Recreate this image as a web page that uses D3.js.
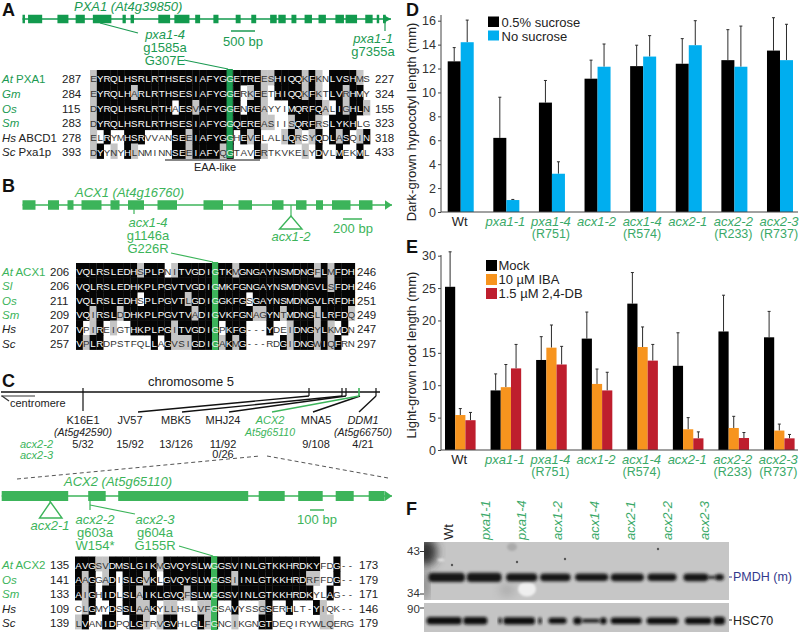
<!DOCTYPE html>
<html><head><meta charset="utf-8">
<style>html,body{margin:0;padding:0;background:#fff}svg{display:block}text{font-family:"Liberation Sans",Arial,sans-serif}</style>
<script src="https://cdnjs.cloudflare.com/ajax/libs/d3/7.8.5/d3.min.js"></script></head>
<body><svg id="c" width="799" height="633"></svg>
<script>
// ---------- data ----------
const groups=["Wt","pxa1-1","pxa1-4","acx1-2","acx1-4","acx2-1","acx2-2","acx2-3"];
const sublabels=["","","(R751)","","(R574)","","(R233)","(R737)"];
const sucrose=[12.6,6.2,9.15,11.15,12.2,12.4,12.7,13.5];
const noSucrose=[14.2,1.0,3.2,12.15,13,13.95,12.15,12.7];
const sucroseTop=[13.75,9.6,11,12.7,13.95,14.5,15.25,16.25];
const noSucroseTop=[16.05,1.05,4.2,14.05,14.75,16,15.55,15.7];
const mock=[25.2,9.2,13.9,17.2,22.6,13,18.3,17.4];
const iba=[5.4,9.7,15.8,10.2,15.9,3.2,3.4,3.0];
const db=[4.6,12.6,13.2,9.2,13.8,1.8,1.85,1.8];
const mockTop=[30.6,11.75,17.5,21.3,27.4,18.1,23.9,21.4];
const ibaTop=[6.4,13.2,19.3,12.5,19,5,5.2,4];
const dbTop=[5.8,16.3,16,12,16.3,2.8,2.7,2.4];

const seqA=["EYRQLHSRLRTHSESIAFYGGETREESHIQQKFKNLVSHMS","EYRQLHARLRTHSESIAFYGGERKEETHIQQKFKTLVRHMY","DYRQLHSRLRTHAESVAFYGGENREAYYIMQRFQALIGHLN","DYRQLHSRLRTHSESIAFYGGQEREASIISQRFRSLYKHLG","ELRYMHSRVVANSEEIAFYGGHEVELALLQRSYQDLASQIN","DYYNYHLNMINNSEEIAFYQGTAVERTKVKELYDVLMEKML"];
const maskA=["gkkkkkkkkkkkkkkkkkkkkkkkkggkkkkgkgwkkkkgw","gkkkkkgkkkkkkkkkkkkkkkwgkgwkkkkgkgwkkgkkw","gkkkkkkkkkkkwkkgkkkkkkwkkgwwwkkkkkgwkgkkgk","gkkkkkkkkkkkkkkkkkkkkkkkkggwwgkkkgwkkkkwwg","gwkwwkkkwwwwkkgkkkkkkwkgkwwwgkgwgkwkgkwgk","gkwgwkgwwwwwkkgkkkkgkwwwkgwwwwwgwkwwkwwkw"];
const labelsA=[["At"," PXA1"],["Gm",""],["Os",""],["Sm",""],["Hs"," ABCD1"],["Sc"," Pxa1p"]];
const startsA=[287,284,115,283,278,393];
const endsA=[227,324,155,323,318,433];

const seqB=["VQLRSLEDHSPLPNITVGDIGTKMGNGAYNSMDNGFLMFDH","VQLRSLEDHKPLPGVTVGDIGMKFGNGAYNSMDNGVLSFDH","VQLRSLEDHSPLPGVTLGDIGGKFGSGAYNSMDNGVLRFDH","VQIRSLDDHKPLPGVTVADIGVKFGNAGYNTMDNGLLRFDQ","VPIREIGTHKPLPGITVGDIGPKFG---YDEIDNGYLKMDN","VPLRDPSTFQLLAGVSIGDIGAKMG---RDGIDNGWIQFRN"];
const maskB=["kkkkkkkkkgkkkwgkkkkkkkkgkkkkkkkkkkkgkgkkk","kkkkkkkkkkkkkkkkkkkkkkkkkkkkkkkkkkkkkgkkk","kkkkkkkkkwkkkkkkgkkkkkkkkwkkkkkkkkkkkkkkk","kkgkkkgkkkkkkkkkkgkkkkkkkkggkkgkkkkgkkkkg","kwgkwgwwkkkkkkgkkkkkkwkkkwwwkwwgkkkgkgwkw","kgkkwwwwwwwkwkgggkkkkgkgkwwwwwkgkkkgkgkww"];
const labelsB=[["At"," ACX1"],["Sl",""],["Os",""],["Sm",""],["Hs",""],["Sc",""]];
const startsB=[206,206,211,209,207,257];
const endsB=[246,246,251,249,247,297];

const seqC=["AVGSVDMSLGIKMGVQYSLWGGSVINLGTKKHRDKYFDG--","AAGGADISLGVKLGVQYSLWGGSIINLGTKKHRDRFFDG--","AIGHIDLSLAIKLGVQFSLWGGSVINLGTKKHRDKYLAG--","CLGMYDSSLAAKYLLHSLVFGSAVYSSGSERHLT-YIQK--","LVANIDPQLGTRVGVHLGLFGNCIKGNGTDEQIRYWLQERG"];
const maskC=["kkkggkkkkkkkgkkkkkkkkkkkkkkkkkkkkkkkwwkww","kgkwgkwkkkgkwkkkkkkkkkkgkkkkkkkkkkggwwkww","kgkwkkwkkgkkkkkkgkkkkkkkkkkkkkkkkkkwwkww","wgkwwkwkkggkwggwwwggkwwkwwwgkwwkwwwkgwwww","gkwwkkwwkkgwgkkwwwkgkwwgwwwkkwwwwwwwggwww"];
const labelsC=[["At"," ACX2"],["Os",""],["Sm",""],["Hs",""],["Sc",""]];
const startsC=[135,141,133,109,139];
const endsC=[173,179,171,146,179];

const exonsA=[[0,150],[340,1200],[2130,2800],[3240,3800],[4290,5420],[6100,6300],[6590,6800],[8280,9000],[9260,10180],[10530,10830],[11640,11950],[13000,13300],[13950,14250],[15100,15500],[15600,16050],[16400,16700],[17200,17650],[18050,18500],[19080,19600],[19700,20400],[20900,21350],[21600,21750],[22000,22150]];
const exonsB=[[0,130],[255,365],[450,510],[590,790],[880,970],[1055,1215],[1350,1545],[1810,2005],[2160,2295],[2495,2610],[2735,2840],[2935,3005],[3095,3280],[3365,3500]];
const exonsC=[[0,665],[865,1040],[1165,2465],[2570,2830],[2965,3210],[3340,3520],[3670,3830]];
const bandsTop=[[85,195,1],[200,305,1],[318,412,.9],[420,512,.85],[525,625,.8],[632,732,.85],[742,830,.8],[850,925,.85],[920,950,.3],[945,972,.7]];
const bandsBottom=[[80,185,.95],[190,262,.95],[295,305,.8],[310,405,.9],[415,425,.85],[445,500,.75],[520,545,.9],[545,600,.45],[600,620,.85],[632,725,.8],[740,835,.85],[855,935,.85],[940,975,1]];
const markerNames=["K16E1","JV57","MBK5","MHJ24","MNA5"];
const fractions=["5/32","15/92","13/126","11/92","9/108","4/21"];
const lanes=["Wt","pxa1-1","pxa1-4","acx1-2","acx1-4","acx2-1","acx2-2","acx2-3"];

// ---------- helpers ----------
const svg=d3.select("#c");
const G1="#1b9a52",G2="#3cb45a",GT="#3aa968",INK="#222";
function txt(x,y,s,o={}){const t=svg.append("text").attr("x",x).attr("y",y).text(s)
 .attr("font-size",o.size||12).attr("fill",o.fill||INK).attr("text-anchor",o.anchor||"start");
 if(o.italic)t.attr("font-style","italic"); if(o.bold)t.attr("font-weight","bold");
 if(o.rot!==undefined)t.attr("transform",`rotate(${o.rot} ${x} ${y})`); return t;}
function line(x1,y1,x2,y2,c,w=1,dash){const l=svg.append("line").attr("x1",x1).attr("y1",y1).attr("x2",x2).attr("y2",y2).attr("stroke",c).attr("stroke-width",w);if(dash)l.attr("stroke-dasharray",dash);return l;}

["A","B","C","D","E","F"].forEach((l,i)=>{const p=[[2,16],[2,192],[2,387],[406,16],[406,253],[406,515]][i];
 txt(p[0],p[1],l,{size:18,bold:true,fill:"#111"});});

function gene(ex,x0,kx,xEnd,y,h,col,arrowLen){
 const s=d3.scaleLinear().domain([0,1]).range([x0,x0+kx]);
 line(x0,y,xEnd,y,col,1.6);
 svg.append("g").selectAll("rect").data(ex).join("rect").attr("x",d=>s(d[0])).attr("width",d=>s(d[1])-s(d[0]))
  .attr("y",y-h/2).attr("height",h).attr("fill",col);
 svg.append("path").attr("d",d3.line()([[xEnd-arrowLen,y-h/2],[xEnd,y],[xEnd-arrowLen,y+h/2]])+"Z").attr("fill",col);
}
function align(seqs,masks,x0,cw,ys,gx,greenTop,greenBottom,greenCol,labels,starts,ends,numX,endX,labelCol,nBlack){
 const xs=d3.scaleLinear().domain([0,41]).range([x0,x0+41*cw]);
 const g=svg.append("g");
 seqs.forEach((s,r)=>{
  const h=ys[1]-ys[0];
  const cells=s.split("").map((c,i)=>({c,i,m:(masks[r]||"")[i]||"w"}));
  g.append("g").selectAll("rect").data(cells.filter(d=>d.m!=="w")).join("rect")
   .attr("x",d=>xs(d.i)).attr("width",cw+.3).attr("y",ys[r]-8).attr("height",h+.4)
   .attr("fill",d=>d.m==="k"?"#050505":"#c4c4c4");
 });
 svg.append("rect").attr("x",xs(gx)).attr("width",cw-.6).attr("y",greenTop).attr("height",greenBottom-greenTop).attr("fill",greenCol);
 seqs.forEach((s,r)=>{
  s.split("").forEach((c,i)=>{
   const m=(masks[r]||"")[i]||"w";
   const ink=(i===gx)?"#e8f8ea":(m==="k"?"#fff":"#333");
   svg.append("text").attr("x",xs(i)+cw/2).attr("y",ys[r]+4).attr("text-anchor","middle").attr("font-size",9.8).attr("fill",ink).text(c);
  });
  const isG=r<nBlack;
  svg.append("text").attr("x",2).attr("y",ys[r]+4.5).attr("font-size",11.5).call(t=>{
   t.append("tspan").attr("font-style","italic").attr("fill",isG?labelCol:"#222").text(labels[r][0]);
   if(labels[r][1])t.append("tspan").attr("fill",isG?labelCol:"#222").text(labels[r][1]);
  });
  txt(numX,ys[r]+4.5,starts[r],{size:11.5,fill:"#222"});
  txt(endX,ys[r]+4.5,ends[r],{size:11.5,fill:"#222"});
 });
}

// ---------- Panel A ----------
svg.append("text").attr("x",74).attr("y",11).attr("font-size",13).attr("fill",G1).attr("font-style","italic").text("PXA1 (At4g39850)");
gene(exonsA,22.5,0.0164,391,19,8.5,"#129a4e",8);
line(100,23,138,33,G1,1.2);
const m1={anchor:"middle",fill:G1,size:13};
txt(165,39,"pxa1-4",{...m1,italic:true});txt(165,52,"g1585a",m1);txt(165,65,"G307E",m1);
line(184,60,228,69,G1,1.2);
line(231,31,255,31,G1,1.5);txt(243,46,"500 bp",m1);
line(385,19,385,31,G1,1.2);
txt(373,43,"pxa1-1",{...m1,italic:true});txt(373,56,"g7355a",m1);
align(seqA,maskA,90,6.83,[78,93,108,122.7,137,151.5],20,69,158,"#1c9e52",labelsA,startsA,endsA,62,375,G1,4);
line(165,160,260,160,"#111",1);txt(215,171,"EAA-like",{anchor:"middle",size:11,fill:"#222"});

// ---------- Panel B ----------
svg.append("text").attr("x",75).attr("y",197).attr("font-size",13).attr("fill",G2).attr("font-style","italic").text("ACX1 (At4g16760)");
gene(exonsB,22.5,0.1,392,205,9.5,G2,7);
line(134,205,134,214,G2,1.2);
const m2={anchor:"middle",fill:G2,size:13};
txt(148,227,"acx1-4",{...m2,italic:true});txt(148,240,"g1146a",m2);txt(148,253,"G226R",m2);
line(171,253,213,262,G2,1.2);
line(291,205,291,216,G2,1.2);
svg.append("path").attr("d",d3.line()([[291,216],[279.5,229],[302,229]])+"Z").attr("fill","none").attr("stroke",G2).attr("stroke-width",1.4);
txt(291,241,"acx1-2",{...m2,italic:true});
line(343,219,362,219,G2,1.5);txt(353,233,"200 bp",m2);
align(seqB,maskB,76,6.8,[271,285.5,300,314,328.5,343],20,262,350,G2,labelsB,startsB,endsB,50,357,G2,4);

// ---------- Panel C ----------
txt(191,386,"chromosome 5",{anchor:"middle",size:13,fill:"#222"});
line(1,392,380,392,"#111",1.4);
line(83,388,83,411,"#111",1.2);
[[309,138],[342,182],[346,229],[360,313]].forEach(d=>line(d[0],396,d[1],412,"#111",1.4));
line(309,388,309,396,"#111",1.2);line(342,388,342,396,"#111",1.2);line(346,388,346,396,"#111",1.2);
line(376,388,376,396,"#111",1.2);line(376,396,359,412,"#111",1.4);
line(359,396,272,412,G2,1.5);line(359,388,359,396,G2,1.6);
line(1,396,35,396,"#333",1);line(2,396,9,401,"#333",1.2);
txt(10,407,"centromere",{size:11,fill:"#222"});
const mk={anchor:"middle",size:11,fill:"#222"};
[83,130,176,223,316].forEach((x,i)=>txt(x,424,markerNames[i],mk));
txt(363,424,"DDM1",{...mk,italic:true});
txt(270,424,"ACX2",{...mk,italic:true,fill:G2});
txt(270,436,"At5g65110",{...mk,italic:true,fill:G2,size:10.5});
txt(83,436,"(At5g42590)",{...mk,italic:true,size:10.5});
txt(363,436,"(At5g66750)",{...mk,italic:true,size:10.5});
[83,130,176,223,316,363].forEach((x,i)=>txt(x,448,fractions[i],mk));
txt(223,458,"0/26",mk);
txt(20,448,"acx2-2",{italic:true,fill:G2,size:11});
txt(20,459,"acx2-3",{italic:true,fill:G2,size:11});
line(17,479,260,456,"#555",1,"4 3");line(267,456,388,478,"#555",1,"4 3");
svg.append("text").attr("x",64).attr("y",486).attr("font-size",13).attr("fill",G2).attr("font-style","italic").text("ACX2 (At5g65110)");
gene(exonsC,1.7,0.1,392,496,10,G2,7);
line(50,496,50,502,G2,1.2);
svg.append("path").attr("d",d3.line()([[50.5,502],[39.5,518],[62,518]])+"Z").attr("fill","none").attr("stroke",G2).attr("stroke-width",1.4);
txt(50,530,"acx2-1",{...m2,italic:true});
line(90,496,90,510,G2,1.2);line(90,505,135,514,G2,1.2);
txt(95,524,"acx2-2",{...m2,italic:true});txt(95,537,"g603a",m2);txt(95,550,"W154*",m2);
txt(155,524,"acx2-3",{...m2,italic:true});txt(155,537,"g604a",m2);txt(155,550,"G155R",m2);
line(179,546,213,556,G2,1.2);
line(310,510,324,510,G2,1.5);txt(317,524,"100 bp",m2);
align(seqC,maskC,75,6.8,[564.5,579,593.5,608,622.5],20,556,630,G2,labelsC,startsC,endsC,50,359,G2,3);

// ---------- Panels D, E ----------
function chart(series,tops,colors,x0,x1,inner,yBase,yTop,dom,ticks,ylab,ylabY,legend,topExtent){
 const xb=d3.scaleBand().domain(groups).range([x0,x1]).paddingInner(inner).paddingOuter(0).align(0);
 const xs=d3.scaleBand().domain(d3.range(series.length)).range([0,xb.bandwidth()]);
 const y=d3.scaleLinear().domain(dom).range([yBase,yTop]);
 const g=svg.append("g");
 series.forEach((vals,k)=>{
  g.append("g").selectAll("path").data(vals).join("path")
   .attr("d",(d,i)=>{const cx=xb(groups[i])+xs(k)+xs.bandwidth()/2;const t=y(tops[k][i]);return `M${cx},${y(d)}V${t}M${cx-1.5},${t}H${cx+1.5}`;})
   .attr("stroke","#2c2c2c").attr("stroke-width",1).attr("fill","none");
  g.append("g").selectAll("rect").data(vals).join("rect")
   .attr("x",(d,i)=>xb(groups[i])+xs(k)).attr("width",xs.bandwidth())
   .attr("y",d=>y(d)).attr("height",d=>yBase-y(d)).attr("fill",colors[k]);
 });
 const ax=svg.append("g").attr("transform","translate(441,0)").call(d3.axisLeft(y).tickValues(ticks).tickSize(3).tickPadding(2).tickFormat(d3.format("d")));
 ax.selectAll("text").attr("font-size",12.5).attr("fill","#333").attr("font-family",'"Liberation Sans",Arial,sans-serif');
 ax.selectAll("line").attr("stroke","#444");
 ax.select(".domain").attr("d",`M0,${topExtent}V${yBase}`).attr("stroke","#444");
 line(441,yBase,798,yBase,"#444",1.2);
 txt(416,ylabY,ylab,{anchor:"middle",size:13,rot:-90,fill:"#222"});
 groups.forEach((n,i)=>{
  const cx=xb(n)+xb.bandwidth()/2-1;
  txt(cx,yBase+14,n,{anchor:"middle",size:13,italic:i>0,fill:i>0?GT:"#222"});
  if(sublabels[i])txt(cx,yBase+26,sublabels[i],{anchor:"middle",size:12.5,fill:GT});
 });
 legend.forEach(l=>{
  svg.append("rect").attr("x",l.x).attr("y",l.y).attr("width",11).attr("height",l.h).attr("fill",l.c);
  txt(l.x+l.dx,l.y+l.b,l.t,{size:13,fill:"#222"});
 });
}
chart([sucrose,noSucrose],[sucroseTop,noSucroseTop],["#000","#00aeef"],447.7,793,1-26/45.58,212,20.7,[0,16],d3.range(0,17,2),"Dark-grown hypocotyl length (mm)",122,
 [{x:488,y:16.5,h:10.5,c:"#000",t:"0.5% sucrose",dx:13.5,b:10},{x:488,y:30.5,h:10,c:"#00aeef",t:"No sucrose",dx:13.5,b:10}],15);
chart([mock,iba,db],[mockTop,ibaTop,dbTop],["#000","#f7941e","#be1e2d"],445,794.6,1-30.6/45.58,450,255.7,[0,30],d3.range(0,31,5),"Light-grown root length (mm)",355,
 [{x:486,y:260,h:11,c:"#000",t:"Mock",dx:12.5,b:10},{x:486,y:274,h:11,c:"#f7941e",t:"10 µM IBA",dx:12.5,b:10},{x:486,y:288,h:11,c:"#be1e2d",t:"1.5 µM 2,4-DB",dx:12.5,b:10}],255);

// ---------- Panel F ----------
const defs=svg.append("defs");
[["b1",1.4],["b2",1],["b5",5]].forEach(f=>defs.append("filter").attr("id",f[0]).attr("x","-40%").attr("y","-100%").attr("width","180%").attr("height","300%").append("feGaussianBlur").attr("stdDeviation",f[1]));
defs.append("clipPath").attr("id","cl1").append("rect").attr("x",424).attr("y",542).attr("width",305).attr("height",58);
defs.append("clipPath").attr("id","cl2").append("rect").attr("x",424).attr("y",603).attr("width",305).attr("height",29);
const bx=d3.scaleLinear().domain([0,1]).range([400,400+1/3]);
const f1=svg.append("g").attr("clip-path","url(#cl1)");
f1.append("rect").attr("x",424).attr("y",542).attr("width",305).attr("height",58).attr("fill","#c6c6c6");
f1.append("ellipse").attr("cx",426).attr("cy",552).attr("rx",11).attr("ry",14).attr("fill","#333").attr("filter","url(#b5)");
f1.append("ellipse").attr("cx",425).attr("cy",585).attr("rx",3).attr("ry",16).attr("fill","#666").attr("filter","url(#b5)");
f1.append("ellipse").attr("cx",512).attr("cy",547).attr("rx",5).attr("ry",4).attr("fill","#aaa").attr("filter","url(#b2)");
f1.append("ellipse").attr("cx",507).attr("cy",590).attr("rx",8).attr("ry",6).attr("fill","#aaa").attr("filter","url(#b5)");
f1.append("ellipse").attr("cx",527).attr("cy",589).attr("rx",9).attr("ry",7.5).attr("fill","#efefef").attr("filter","url(#b2)");
f1.append("ellipse").attr("cx",441).attr("cy",560).attr("rx",3.5).attr("ry",1.3).attr("fill","#e6e6e6").attr("filter","url(#b2)");
f1.append("line").attr("x1",445).attr("x2",535).attr("y1",555.5).attr("y2",555.5).attr("stroke","#a0a0a0").attr("stroke-width",1.2).attr("filter","url(#b2)");
[[452,565],[517,562],[565,559],[658,549]].forEach(p=>f1.append("circle").attr("cx",p[0]).attr("cy",p[1]).attr("r",1.2).attr("fill","#555"));
f1.append("g").selectAll("rect").data(bandsTop).join("rect").attr("x",d=>bx(d[0])).attr("width",d=>bx(d[1])-bx(d[0]))
 .attr("y",d=>577.3-4.6*d[2]).attr("height",d=>9.2*d[2]).attr("rx",4).attr("fill","#141414").attr("filter","url(#b1)");
const f2=svg.append("g").attr("clip-path","url(#cl2)");
f2.append("rect").attr("x",424).attr("y",603).attr("width",305).attr("height",29).attr("fill","#c4c4c4");
f2.append("g").selectAll("rect").data(bandsBottom).join("rect").attr("x",d=>bx(d[0])).attr("width",d=>bx(d[1])-bx(d[0]))
 .attr("y",d=>620.8-4*d[2]).attr("height",d=>8*d[2]).attr("rx",3).attr("fill","#111").attr("filter","url(#b1)");
txt(407,555,"43",{size:11.5,fill:"#333"});line(420,551.5,424,551.5,"#333",1);
txt(407,597,"34",{size:11.5,fill:"#333"});line(420,594,424,594,"#333",1);
txt(407,612.5,"90",{size:11.5,fill:"#333"});line(420,608,424,608,"#333",1);
line(729,577,732,577,"#333b8a",1);txt(733,581,"PMDH (m)",{size:12.5,fill:"#34398c"});
line(729,620,732,620,"#222",1);txt(733,625,"HSC70",{size:12.5,fill:"#222"});
[453,490,526,562,599,635,672,709].forEach((x,i)=>{
 txt(x,540,lanes[i],{size:13,rot:-90,italic:i>0,fill:i>0?GT:"#222"});
});
</script></body></html>
